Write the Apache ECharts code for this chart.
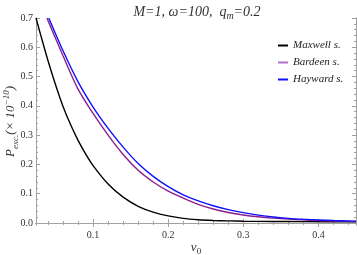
<!DOCTYPE html>
<html>
<head>
<meta charset="utf-8">
<script src="https://cdn.jsdelivr.net/npm/echarts@6/dist/echarts.min.js"></script>
<style>html,body{margin:0;padding:0;background:#fff}#c{width:357px;height:255px}</style>
</head>
<body>
<div id="c"></div>
<script>
const seriesNames = ['Maxwell s.', 'Bardeen s.', 'Hayward s.'];
const maxwell = [[0.024,0.70],[0.03,0.644],[0.04,0.554],[0.05,0.472],[0.06,0.398],[0.07,0.336],[0.08,0.282],[0.09,0.236],[0.1,0.196],[0.12,0.133],[0.14,0.088],[0.16,0.057],[0.18,0.037],[0.2,0.024],[0.22,0.0155],[0.24,0.011],[0.26,0.0085],[0.28,0.007],[0.3,0.006],[0.34,0.005],[0.38,0.0045],[0.45,0.004]];
const bardeen = [[0.0387,0.70],[0.04,0.691],[0.06,0.571],[0.08,0.457],[0.1,0.374],[0.12,0.300],[0.14,0.234],[0.16,0.180],[0.18,0.140],[0.2,0.109],[0.22,0.085],[0.24,0.0636],[0.26,0.0476],[0.28,0.0359],[0.3,0.0273],[0.32,0.0211],[0.34,0.0165],[0.36,0.013],[0.38,0.0105],[0.4,0.0085],[0.42,0.0069],[0.44,0.0055],[0.45,0.005]];
const hayward = [[0.041,0.70],[0.06,0.588],[0.08,0.482],[0.1,0.396],[0.12,0.323],[0.14,0.259],[0.16,0.203],[0.18,0.159],[0.2,0.124],[0.22,0.096],[0.24,0.0751],[0.26,0.0587],[0.28,0.0455],[0.3,0.0351],[0.32,0.0268],[0.34,0.0203],[0.36,0.0158],[0.38,0.0127],[0.4,0.0103],[0.42,0.0083],[0.44,0.0067],[0.45,0.006]];
const xMajor = [0.1, 0.2, 0.3, 0.4];
const xMinor = [0.04,0.06,0.08,0.12,0.14,0.16,0.18,0.22,0.24,0.26,0.28,0.32,0.34,0.36,0.38,0.42,0.44];
const yMajor = [0, 0.1, 0.2, 0.3, 0.4, 0.5, 0.6, 0.7];
const yMinor = [0.02,0.04,0.06,0.08,0.12,0.14,0.16,0.18,0.22,0.24,0.26,0.28,0.32,0.34,0.36,0.38,0.42,0.44,0.46,0.48,0.52,0.54,0.56,0.58,0.62,0.64,0.66,0.68];
const xRange = [0.024, 0.45];
const yRange = [-0.007, 0.7];

const frameColor = '#a0a0a0';
const serif = 'Liberation Serif';

function mkX(pos, ticks, len, labels) {
  return {
    type: 'value', position: pos, min: xRange[0], max: xRange[1],
    axisLine: { show: true, lineStyle: { color: frameColor, width: 1 } },
    axisTick: { show: true, inside: true, length: len, customValues: ticks, lineStyle: { color: frameColor } },
    axisLabel: labels ? { show: true, customValues: ticks, color: '#333', fontFamily: serif, fontSize: 10, margin: 5, formatter: v => v.toFixed(1) } : { show: false },
    splitLine: { show: false }
  };
}
function mkY(pos, ticks, len, labels) {
  return {
    type: 'value', position: pos, min: yRange[0], max: yRange[1],
    axisLine: { show: true, lineStyle: { color: frameColor, width: 1 } },
    axisTick: { show: true, inside: true, length: len, customValues: ticks, lineStyle: { color: frameColor } },
    axisLabel: labels ? { show: true, customValues: ticks, color: '#333', fontFamily: serif, fontSize: 10, margin: 3, formatter: v => v.toFixed(1) } : { show: false },
    splitLine: { show: false }
  };
}

const xa = mkX('bottom', xMajor, 4, true);
xa.name = '{i|ν}{s|0}';
xa.nameLocation = 'middle';
xa.nameGap = 15;
xa.nameMoveOverlap = false;
xa.nameTextStyle = { rich: {
  i: { fontFamily: serif, fontStyle: 'italic', fontSize: 13, color: '#333', lineHeight: 16 },
  s: { fontFamily: serif, fontSize: 9, color: '#333', lineHeight: 10, verticalAlign: 'bottom' }
}};
const ya = mkY('left', yMajor, 4, true);
ya.name = '{a|P}{b|exc.}{a|(× 10}{c|−10}{a|)}';
ya.nameLocation = 'middle';
ya.nameRotate = 90;
ya.nameGap = 16;
ya.nameMoveOverlap = false;
ya.nameTextStyle = { rich: {
  a: { fontFamily: serif, fontStyle: 'italic', fontSize: 13, color: '#333', lineHeight: 18 },
  b: { fontFamily: serif, fontStyle: 'italic', fontSize: 9, color: '#333', lineHeight: 10, verticalAlign: 'bottom' },
  c: { fontFamily: serif, fontStyle: 'italic', fontSize: 9, color: '#333', lineHeight: 10, verticalAlign: 'top' }
}};

const chart = echarts.init(document.getElementById('c'), null, { renderer: 'canvas' });
chart.setOption({
  animation: false,
  backgroundColor: '#fff',
  title: {
    text: '{t|M=1, ω=100,  q}{s|m}{t|=0.2}',
    left: 192, top: -2, textAlign: 'center',
    textStyle: { fontWeight: 'normal', rich: {
      t: { fontFamily: serif, fontStyle: 'italic', fontWeight: 'normal', fontSize: 14, color: '#333', lineHeight: 18 },
      s: { fontFamily: serif, fontStyle: 'italic', fontWeight: 'normal', fontSize: 10, color: '#333', lineHeight: 11, verticalAlign: 'bottom' }
    }}
  },
  legend: {
    orient: 'vertical', left: 273, top: 35, itemWidth: 10, itemHeight: 2, itemGap: 6,
    icon: 'rect',
    textStyle: { fontFamily: serif, fontStyle: 'italic', fontWeight: 'normal', fontSize: 11, color: '#222' },
    data: seriesNames
  },
  grid: { left: 36, right: 1, top: 18, bottom: 30, outerBoundsMode: 'none', containLabel: false },
  xAxis: [xa, mkX('bottom', xMinor, 2, false), mkX('top', xMajor, 4, false), mkX('top', xMinor, 2, false)],
  yAxis: [ya, mkY('left', yMinor, 2, false), mkY('right', yMajor, 4, false), mkY('right', yMinor, 2, false)],
  series: [
    { name: seriesNames[0], type: 'line', data: maxwell, smooth: 0.3, showSymbol: false, lineStyle: { color: '#000', width: 1.4 }, itemStyle: { color: '#000' }, clip: true },
    { name: seriesNames[1], type: 'line', data: bardeen, smooth: 0.3, showSymbol: false, lineStyle: { color: '#8a1f8a', width: 1.4 }, itemStyle: { color: '#b070c0' }, clip: true },
    { name: seriesNames[2], type: 'line', data: hayward, smooth: 0.3, showSymbol: false, lineStyle: { color: '#1010ff', width: 1.4 }, itemStyle: { color: '#1010ff' }, clip: true }
  ]
});
</script>
</body>
</html>
